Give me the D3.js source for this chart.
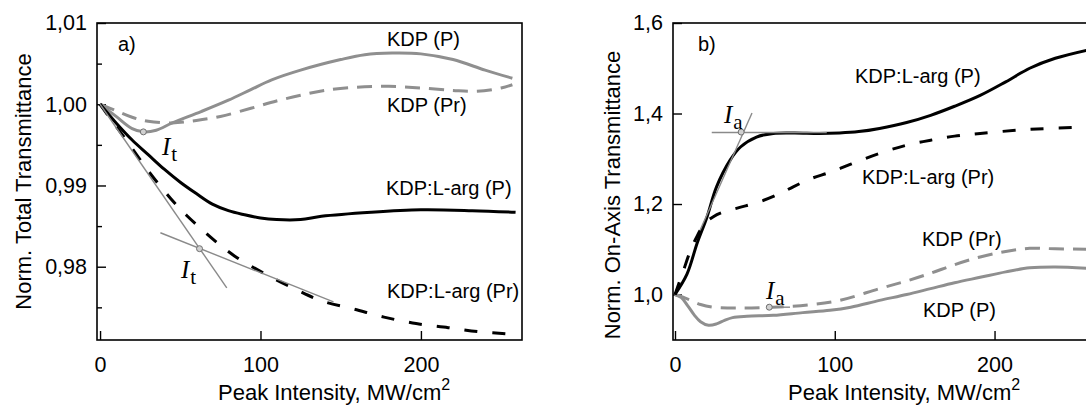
<!DOCTYPE html>
<html><head><meta charset="utf-8">
<script src="https://cdn.jsdelivr.net/npm/d3@7"></script>
<style>
body{margin:0;background:#fff;}
text{font-family:"Liberation Sans",Arial,sans-serif;fill:#000;}
.serif{font-family:"Liberation Serif","Times New Roman",serif;font-style:italic;}
</style></head>
<body><svg id="c" width="1086" height="405"></svg>
<script>
// ---------- DATA ----------
// Panel a) : Norm. Total Transmittance vs Peak Intensity
const aKdpP_x   = [0,10,20,27,35,45,63,80,94,107,125,150,165,182,200,220,240,257];
const aKdpP_y   = [1.0,0.9985,0.9970,0.9966,0.9968,0.9977,0.9991,1.0005,1.0018,1.0030,1.0042,1.0055,1.0061,1.0063,1.0062,1.0055,1.0042,1.0032];
const aKdpPr_x  = [0,10,20,30,45,60,75,94,110,125,140,160,180,200,220,235,250,257];
const aKdpPr_y  = [1.0,0.9992,0.9984,0.9979,0.9977,0.9980,0.9985,0.9995,1.0004,1.0011,1.0017,1.0021,1.0022,1.0020,1.0017,1.0016,1.0020,1.0024];
const aLargP_x  = [0,10,20,30,40,50,60,70,80,90,100,110,125,138,169,200,232,259];
const aLargP_y  = [1.0,0.9977,0.9956,0.9938,0.9920,0.9904,0.9890,0.9877,0.9869,0.9864,0.9860,0.9858,0.9858,0.9862,0.9867,0.9870,0.9869,0.9867];
const aLargPr_x = [0,8,17,30,44,54,64,74,84,102,121,138,158,177,197,217,236,257];
const aLargPr_y = [1.0,0.9978,0.9954,0.9918,0.9884,0.9863,0.9845,0.9828,0.9813,0.9792,0.9773,0.9758,0.9748,0.9738,0.9730,0.9725,0.9720,0.9717];
// Panel b) : Norm. On-Axis Transmittance vs Peak Intensity
const bLargP_x  = [0,7.5,14,20,26,34.5,41,51,61.5,75,90,103,115,128,145,160,175,191,207,222,238,258];
const bLargP_y  = [1.0,1.045,1.115,1.171,1.238,1.297,1.326,1.348,1.356,1.357,1.356,1.357,1.360,1.367,1.380,1.396,1.416,1.440,1.470,1.500,1.522,1.540];
const bLargPr_x = [0,5,10,14,18,24,30,40,53,65,74,85,97,110,128,145,160,175,191,222,258];
const bLargPr_y = [1.0,1.05,1.10,1.13,1.155,1.172,1.182,1.192,1.205,1.222,1.238,1.256,1.270,1.288,1.312,1.330,1.341,1.350,1.356,1.365,1.370];
const bKdpPr_x  = [0,8,16,24,41,61,83,103,128,145,160,175,191,207,222,238,258];
const bKdpPr_y  = [1.0,0.99,0.978,0.972,0.970,0.972,0.977,0.987,1.013,1.030,1.047,1.066,1.083,1.095,1.102,1.101,1.100];
const bKdpP_x   = [0,4,8,12,16,21,26,31,36,45,61.5,80,97,110,128,145,160,175,191,207,222,238,258];
const bKdpP_y   = [1.0,0.993,0.975,0.955,0.940,0.932,0.935,0.943,0.949,0.952,0.954,0.960,0.965,0.972,0.987,1.000,1.013,1.026,1.038,1.050,1.059,1.061,1.058];

const aTicksY = [1.01,1.00,0.99,0.98];
const aMinorY = [1.005,0.995,0.985,0.975];
const bTicksY = [1.6,1.4,1.2,1.0];
const ticksX  = [0,100,200];

// ---------- LAYOUT ----------
const svg = d3.select("#c");
const fmtA = v => d3.format(".2f")(v).replace(".", ",");
const fmtB = v => d3.format(".1f")(v).replace(".", ",");
const pts = (xs, ys) => xs.map((x,i)=>[x, ys[i]]);

function panel(o){
  const g = svg.append("g");
  const x = d3.scaleLinear().domain(o.xd).range([o.L, o.R]);
  const y = d3.scaleLinear().domain(o.yd).range([o.B, o.T]);
  g.append("rect").attr("x",o.L).attr("y",o.T).attr("width",o.R-o.L).attr("height",o.B-o.T)
   .attr("fill","none").attr("stroke","#000").attr("stroke-width",1.6);
  const ax = g.append("g").attr("transform",`translate(0,${o.B})`)
    .call(d3.axisBottom(x).tickValues(ticksX).tickSize(-9).tickPadding(17).tickFormat(d3.format("d")));
  ax.select(".domain").remove();
  ax.selectAll("line").attr("stroke","#000").attr("stroke-width",1.4);
  ax.selectAll("text").attr("font-size",21.5).attr("font-family","Liberation Sans, Arial, sans-serif").attr("fill","#000");
  const ay = g.append("g").attr("transform",`translate(${o.L},0)`)
    .call(d3.axisLeft(y).tickValues(o.ticksY).tickSize(-9).tickPadding(10).tickFormat(o.fmt));
  ay.select(".domain").remove();
  ay.selectAll("line").attr("stroke","#000").attr("stroke-width",1.4);
  ay.selectAll("text").attr("font-size",21.5).attr("font-family","Liberation Sans, Arial, sans-serif").attr("fill","#000");
  if(o.minorY){
    const am = g.append("g").attr("transform",`translate(${o.L},0)`)
      .call(d3.axisLeft(y).tickValues(o.minorY).tickSize(-5).tickFormat(""));
    am.select(".domain").remove();
    am.selectAll("line").attr("stroke","#000").attr("stroke-width",1.4);
  }
  return {g,x,y};
}

const A = panel({L:97,R:522,T:23,B:340,xd:[-1.9,263],yd:[0.97098,1.01],ticksY:aTicksY,minorY:aMinorY,fmt:fmtA});
const B = panel({L:673,R:1092,T:23,B:340,xd:[-1.25,261],yd:[0.8995,1.6],ticksY:bTicksY,fmt:fmtB});

function curve(P, xs, ys, color, w, dash){
  const line = d3.line().x(d=>P.x(d[0])).y(d=>P.y(d[1])).curve(d3.curveCatmullRom.alpha(0.5));
  P.g.append("path").attr("d", line(pts(xs,ys))).attr("fill","none")
    .attr("stroke",color).attr("stroke-width",w).attr("stroke-dasharray",dash||null)
    .attr("stroke-linecap","butt").attr("stroke-linejoin","round");
}
function seg(P, x1,y1,x2,y2){
  P.g.append("line").attr("x1",P.x(x1)).attr("y1",P.y(y1)).attr("x2",P.x(x2)).attr("y2",P.y(y2))
   .attr("stroke","#8a8a8a").attr("stroke-width",1.4);
}
function dot(P, xv, yv){
  P.g.append("circle").attr("cx",P.x(xv)).attr("cy",P.y(yv)).attr("r",3)
   .attr("fill","#d0d0d0").attr("stroke","#707070").attr("stroke-width",1);
}
function label(x,y,t,fs){ svg.append("text").attr("x",x).attr("y",y).attr("font-size",fs||20).text(t); }
function ilabel(x,y,sub){
  const t = svg.append("text").attr("class","serif").attr("x",x).attr("y",y).attr("font-size",25);
  t.append("tspan").text("I");
  t.append("tspan").attr("font-size",21).attr("font-style","normal").attr("dy",6).attr("dx",1).text(sub);
}

const GRAY = "#8f8f8f";
// Panel a
curve(A, aKdpPr_x, aKdpPr_y, GRAY, 3, "15,9");
curve(A, aKdpP_x, aKdpP_y, GRAY, 3);
curve(A, aLargP_x, aLargP_y, "#000", 3);
curve(A, aLargPr_x, aLargPr_y, "#000", 3, "13,15");
seg(A, 0, 1.0, 79, 0.97739);
seg(A, 37.6, 0.98418, 145.5, 0.97568);
dot(A, 27, 0.9966);
dot(A, 62, 0.98222);
ilabel(162,155,"t");
ilabel(181,278,"t");
label(118,51,"a)");
label(387,46,"KDP (P)");
label(387,112,"KDP (Pr)");
label(386,195,"KDP:L-arg (P)");
label(387,298,"KDP:L-arg (Pr)");

// Panel b
curve(B, bKdpPr_x, bKdpPr_y, GRAY, 3, "15,9");
curve(B, bKdpP_x, bKdpP_y, GRAY, 3);
curve(B, bLargPr_x, bLargPr_y, "#000", 3, "13,15");
curve(B, bLargP_x, bLargP_y, "#000", 3);
seg(B, 15.7, 1.142, 48.2, 1.401);
seg(B, 23, 1.358, 95, 1.358);
seg(B, 59, 0.972, 72, 0.972);
dot(B, 41.4, 1.359);
dot(B, 59, 0.972);
ilabel(724,123,"a");
ilabel(766,299,"a");
label(698,51,"b)");
label(855,83,"KDP:L-arg (P)");
label(862,184,"KDP:L-arg (Pr)");
label(922,246,"KDP (Pr)");
label(923,317,"KDP (P)");

// axis titles
function xtitle(x){
  const t = svg.append("text").attr("x",x).attr("y",400).attr("font-size",22);
  t.append("tspan").text("Peak Intensity, MW/cm");
  t.append("tspan").attr("font-size",16).attr("dy",-10).text("2");
}
xtitle(218); xtitle(788);
svg.append("text").attr("transform","translate(31,181.5) rotate(-90)").attr("text-anchor","middle")
  .attr("font-size",22).text("Norm. Total Transmittance");
svg.append("text").attr("transform","translate(620,195) rotate(-90)").attr("text-anchor","middle")
  .attr("font-size",22).text("Norm. On-Axis Transmittance");
</script></body></html>
